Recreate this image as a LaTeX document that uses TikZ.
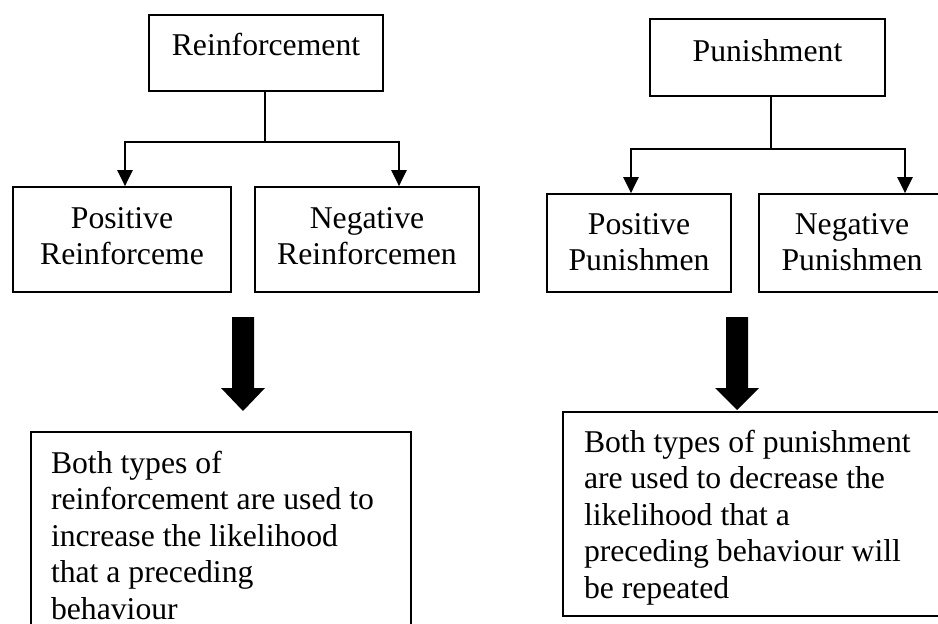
\documentclass[tikz,border=0pt]{standalone}
\usepackage{fontspec}
\setmainfont{Liberation Serif}
\usetikzlibrary{arrows.meta}
\tikzset{
  box/.style={draw, line width=1.7pt, inner sep=0pt, anchor=base,
    font=\fontsize{31.7}{36.5}\selectfont},
  conn/.style={line width=2.3pt},
  tipline/.style={conn, -{Triangle[width=15pt,length=16pt]}},
  bigarrow/.style={fill=black}
}
\newcommand\ctext[2]{\parbox[t]{#1pt}{\centering #2}}
\newcommand\ltext[2]{\parbox[t]{#1pt}{\raggedright #2}}
\begin{document}
\begin{tikzpicture}[x=1pt,y=-1pt]
\useasboundingbox (0,0) rectangle (938,624);
\clip (0,0) rectangle (938,624);

% top boxes
\node[box, minimum width=234pt, text height=40pt, text depth=36pt] (R) at (266,55) {\ctext{220}{Reinforcement}};
\node[box, minimum width=235pt, text height=42pt, text depth=35pt] (P) at (767.5,61) {\ctext{220}{Punishment}};

% middle boxes
\node[box, minimum width=218pt, text height=41pt, text depth=64pt] (PR) at (122,228) {\ctext{210}{Positive\\Reinforceme}};
\node[box, minimum width=224pt, text height=41pt, text depth=64pt] (NR) at (367,228) {\ctext{216}{Negative\\Reinforcemen}};
\node[box, minimum width=184pt, text height=40pt, text depth=58pt] (PP) at (639,234) {\ctext{176}{Positive\\Punishmen}};
\node[box, minimum width=186pt, text height=40pt, text depth=58pt] (NP) at (852,234) {\ctext{178}{Negative\\Punishmen}};

% bottom boxes
\node[box, minimum width=380pt, text height=41pt, text depth=167pt] (BL) at (221,473)
  {\ltext{340}{Both types of\\reinforcement are used to\\increase the likelihood\\that a preceding\\behaviour}};
\node[box, minimum width=387pt, text height=40pt, text depth=164pt] (BR) at (756.5,452)
  {\ltext{345}{Both types of punishment\\are used to decrease the\\likelihood that a\\preceding behaviour will\\be repeated}};

% connectors
\path ([xshift=-1pt]R.south) ++(0,50) coordinate (Rj);
\draw[conn] ([xshift=-1pt]R.south) -- (Rj);
\draw[tipline] (Rj) -| ([xshift=3pt]PR.north);
\draw[tipline] (Rj) -| ([xshift=32pt]NR.north);

\path ([xshift=3.5pt]P.south) ++(0,52) coordinate (Pj);
\draw[conn] ([xshift=3.5pt]P.south) -- (Pj);
\draw[tipline] (Pj) -| ([xshift=-8pt]PP.north);
\draw[tipline] (Pj) -| ([xshift=53pt]NP.north);

% block arrows
\fill[bigarrow] (232,317) -- (254,317) -- (254,388) -- (265,388) -- (243,411) -- (221,388) -- (232,388) -- cycle;
\fill[bigarrow] (726,317) -- (748,317) -- (748,388) -- (759,388) -- (737,410) -- (715,388) -- (726,388) -- cycle;
\end{tikzpicture}
\end{document}
